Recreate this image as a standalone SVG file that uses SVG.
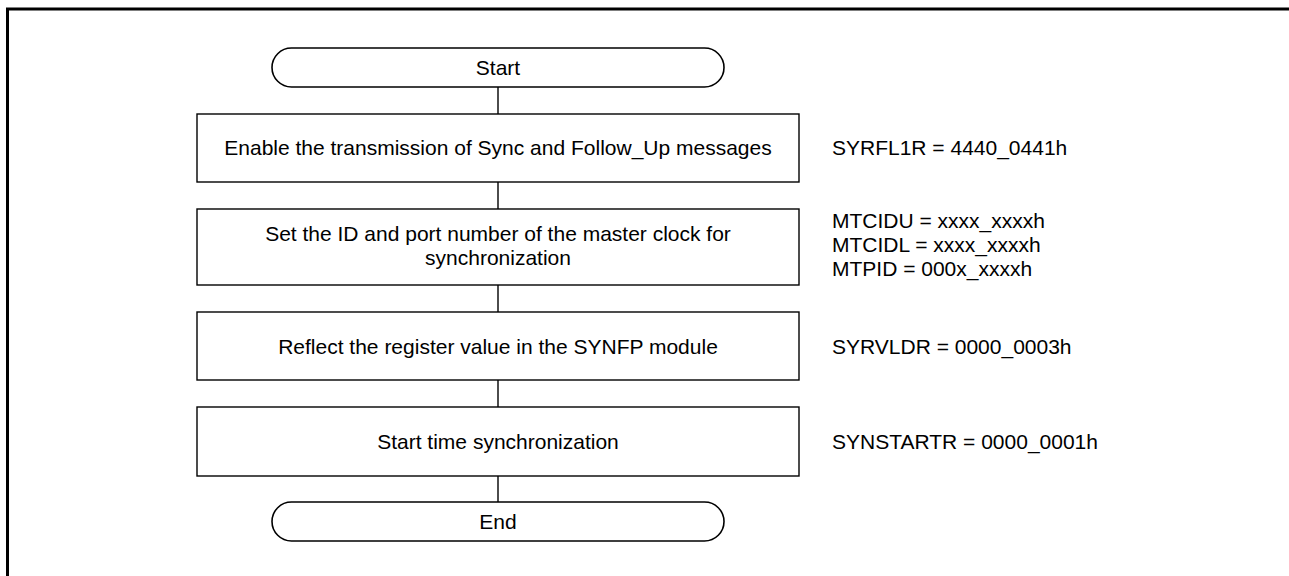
<svg xmlns="http://www.w3.org/2000/svg" width="1289" height="576" viewBox="0 0 1289 576">
<style>
  .box { fill: #fff; stroke: #000; stroke-width: 1.4; }
  .term { fill: #fff; stroke: #000; stroke-width: 1.6; }
  .t { font-family: "Liberation Sans", Arial, sans-serif; font-size: 21px; fill: #000; }
  .c { text-anchor: middle; }
  .conn { stroke: #000; stroke-width: 1.4; fill: none; }
  .frame { stroke: #000; stroke-width: 3; fill: none; }
</style>
<rect width="1289" height="576" fill="#fff"/>
<path class="frame" d="M7.5 576 V9 H1289"/>
<g id="connectors">
  <line class="conn" x1="498" y1="87" x2="498" y2="114"/>
  <line class="conn" x1="498" y1="182" x2="498" y2="209"/>
  <line class="conn" x1="498" y1="285" x2="498" y2="312"/>
  <line class="conn" x1="498" y1="380" x2="498" y2="407"/>
  <line class="conn" x1="498" y1="476" x2="498" y2="502"/>
</g>
<g id="start">
  <rect class="term" x="272" y="48" width="452" height="39" rx="19.5" ry="19.5"/>
  <text class="t c" x="498" y="75">Start</text>
</g>
<g id="step1">
  <rect class="box" x="197" y="114" width="602" height="68"/>
  <text class="t c" x="498" y="155">Enable the transmission of Sync and Follow_Up messages</text>
  <text class="t" x="832" y="155">SYRFL1R = 4440_0441h</text>
</g>
<g id="step2">
  <rect class="box" x="197" y="209" width="602" height="76"/>
  <text class="t c" x="498" y="241">Set the ID and port number of the master clock for</text>
  <text class="t c" x="498" y="265">synchronization</text>
  <text class="t" x="832" y="228">MTCIDU = xxxx_xxxxh</text>
  <text class="t" x="832" y="252">MTCIDL = xxxx_xxxxh</text>
  <text class="t" x="832" y="276">MTPID = 000x_xxxxh</text>
</g>
<g id="step3">
  <rect class="box" x="197" y="312" width="602" height="68"/>
  <text class="t c" x="498" y="353.5">Reflect the register value in the SYNFP module</text>
  <text class="t" x="832" y="353.5">SYRVLDR = 0000_0003h</text>
</g>
<g id="step4">
  <rect class="box" x="197" y="407" width="602" height="69"/>
  <text class="t c" x="498" y="449">Start time synchronization</text>
  <text class="t" x="832" y="449">SYNSTARTR = 0000_0001h</text>
</g>
<g id="end">
  <rect class="term" x="272" y="502" width="452" height="39" rx="19.5" ry="19.5"/>
  <text class="t c" x="498" y="529">End</text>
</g>
</svg>
